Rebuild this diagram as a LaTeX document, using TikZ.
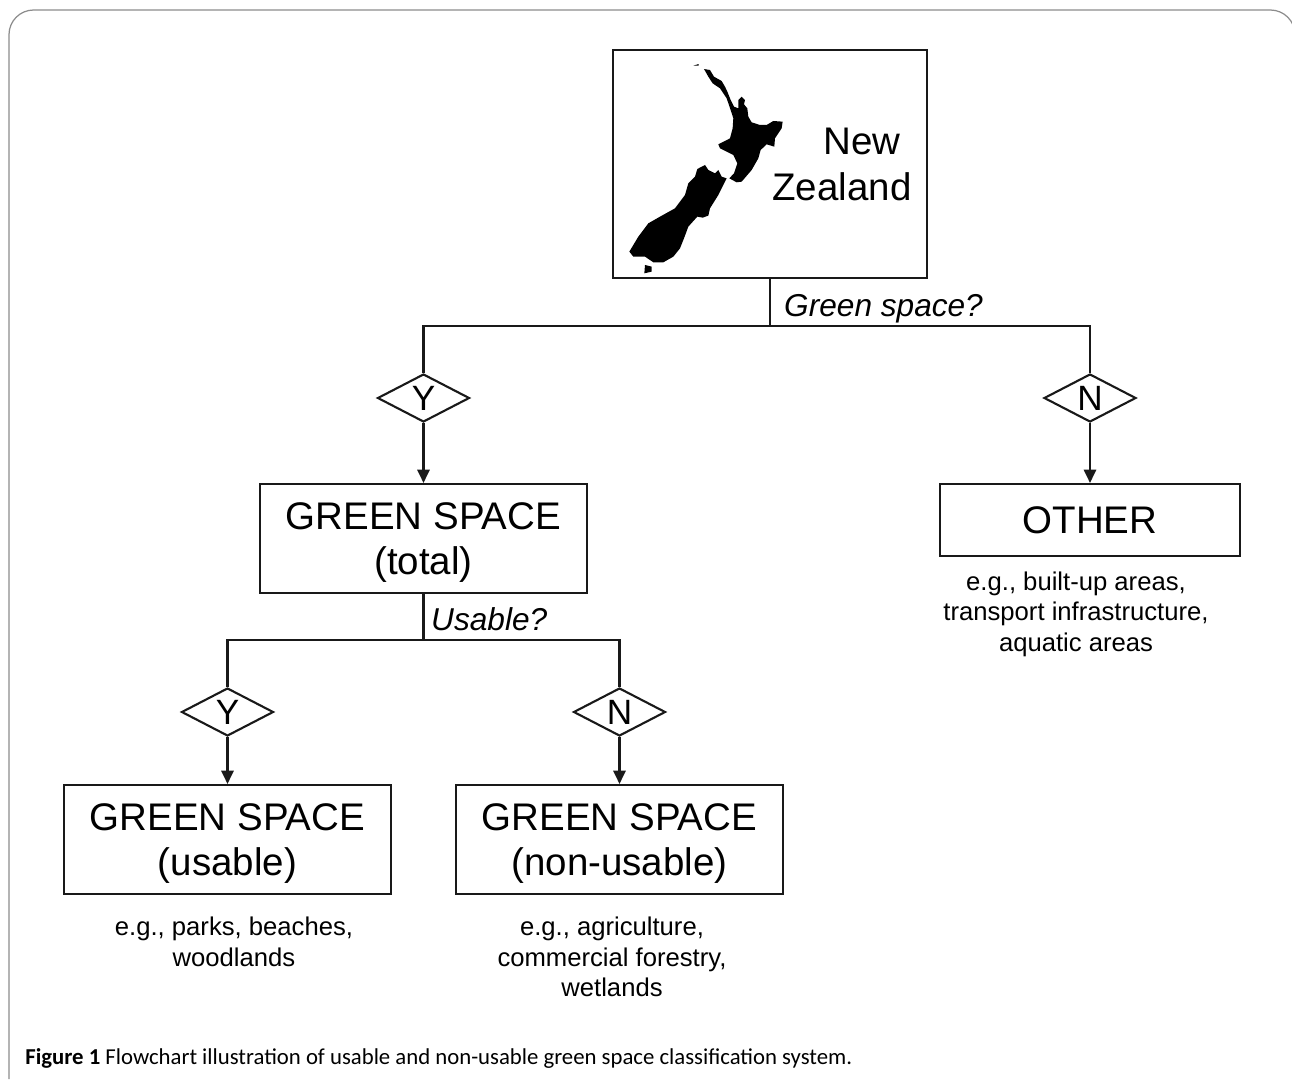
\documentclass[tikz,border=0pt]{standalone}
\usepackage{fontspec}
\setmainfont{Liberation Sans}
\newfontfamily\captionfont{Carlito}
\usetikzlibrary{shapes.geometric,arrows.meta}
\tikzset{
	flow/.style={draw=black!90,line width=1.2pt},
	classbox/.style={draw=black!90,line width=1.2pt,minimum width=6.54cm,minimum height=2.18cm,align=center,text depth=0pt,font=\fontsize{21.9}{26}\selectfont},
	choice/.style={draw=black!90,line width=1.2pt,shape=diamond,aspect=1.9,inner sep=0pt,minimum width=1.84cm,minimum height=0.96cm,font=\fontsize{20}{24}\selectfont},
	note/.style={align=center,font=\fontsize{14.6}{17.3}\selectfont},
	question/.style={font=\fontsize{18}{21}\selectfont\itshape,anchor=west},
}
\begin{document}
\begin{tikzpicture}[x=0.02cm,y=-0.02cm,>={Triangle[length=7.6pt,width=7pt]}]
	\useasboundingbox (0,0) rectangle (1292,1079);
	% 外枠
	\draw[black!45,line width=0.7pt,rounded corners=14pt] (9,1079)--(9,10)--(1295,10)--(1295,1079);
	% 箱の描画
	\node[classbox,minimum width=6.28cm,minimum height=4.56cm] (newzealand) at (770,164) {};
	\node[classbox] (total) at (423.5,538.5) {GREEN SPACE\\(total)};
	\node[classbox,minimum width=6cm,minimum height=1.44cm] (other) at (1090,520) {OTHER};
	\node[classbox] (usable) at (227.5,839.5) {GREEN SPACE\\(usable)};
	\node[classbox] (nonusable) at (619.5,839.5) {GREEN SPACE\\(non-usable)};
	% 菱形の描画
	\node[choice] (yes_top) at (423.5,398) {Y};
	\node[choice] (no_top) at (1090,398) {N};
	\node[choice] (yes_low) at (227.5,712) {Y};
	\node[choice] (no_low) at (619.5,712) {N};
	% 分岐点
	\coordinate (top_join) at (770,326);
	\coordinate (low_join) at (423.5,640);
	% 線の描画
	\draw[flow] (newzealand.south)--(top_join);
	\draw[flow] (yes_top.north)|-(top_join);
	\draw[flow] (no_top.north)|-(top_join);
	\draw[flow] (total.south)--(low_join);
	\draw[flow] (yes_low.north)|-(low_join);
	\draw[flow] (no_low.north)|-(low_join);
	\draw[flow,->] (yes_top.south)--(total.north);
	\draw[flow,->] (no_top.south)--(other.north);
	\draw[flow,->] (yes_low.south)--(usable.north);
	\draw[flow,->] (no_low.south)--(nonusable.north);
	% 地図の描画
	\begin{scope}[shift={(610,45)},scale=0.3333]
		\fill (282,72)--(300,75)--(312,95)--(335,108)--(345,125)--(352,140)--(362,165)--(372,185)--(385,190)--(385,165)--(395,155)--(405,165)--(402,178)--(412,190)--(415,215)--(425,232)--(450,240)--(470,240)--(490,228)--(518,230)--(515,250)--(495,280)--(493,305)--(470,298)--(452,315)--(445,340)--(425,375)--(395,410)--(380,412)--(358,400)--(372,385)--(382,355)--(370,330)--(350,320)--(330,310)--(325,298)--(345,288)--(360,280)--(368,250)--(370,220)--(362,195)--(350,160)--(330,130)--(308,115)--(295,95)--cycle;
		\fill (262,372)--(285,360)--(295,375)--(315,385)--(325,375)--(335,395)--(350,400)--(340,420)--(325,450)--(300,490)--(295,512)--(278,518)--(262,515)--(235,545)--(222,580)--(210,610)--(190,635)--(160,652)--(130,652)--(105,635)--(70,635)--(58,620)--(70,600)--(85,575)--(115,535)--(150,515)--(195,490)--(225,450)--(235,415)--(255,395)--cycle;
		\fill (105,660)--(125,665)--(125,680)--(103,685)--cycle;
		\fill (250,62)--(266,57)--(266,62)--cycle;
	\end{scope}
	% 文字の描画
	\node[font=\fontsize{21.9}{26}\selectfont] (new_label) at (862,141) {New};
	\node[font=\fontsize{21.9}{26}\selectfont] (zealand_label) at (842,187) {Zealand};
	\node[question] (green_question) at (778,309) {Green space?};
	\node[question] (usable_question) at (425,619) {Usable?};
	\node[note] (other_note) at (1076,614) {e.g., built-up areas,\\transport infrastructure,\\aquatic areas};
	\node[note] (usable_note) at (234,942) {e.g., parks, beaches,\\woodlands};
	\node[note] (nonusable_note) at (612,957) {e.g., agriculture,\\commercial forestry,\\wetlands};
	\node[anchor=west,inner sep=0pt,font=\captionfont\fontsize{12.95}{15}\selectfont] (figure_caption) at (25,1058) {\textbf{Figure 1} Flowchart illustration of usable and non-usable green space classification system.};
\end{tikzpicture}
\end{document}
